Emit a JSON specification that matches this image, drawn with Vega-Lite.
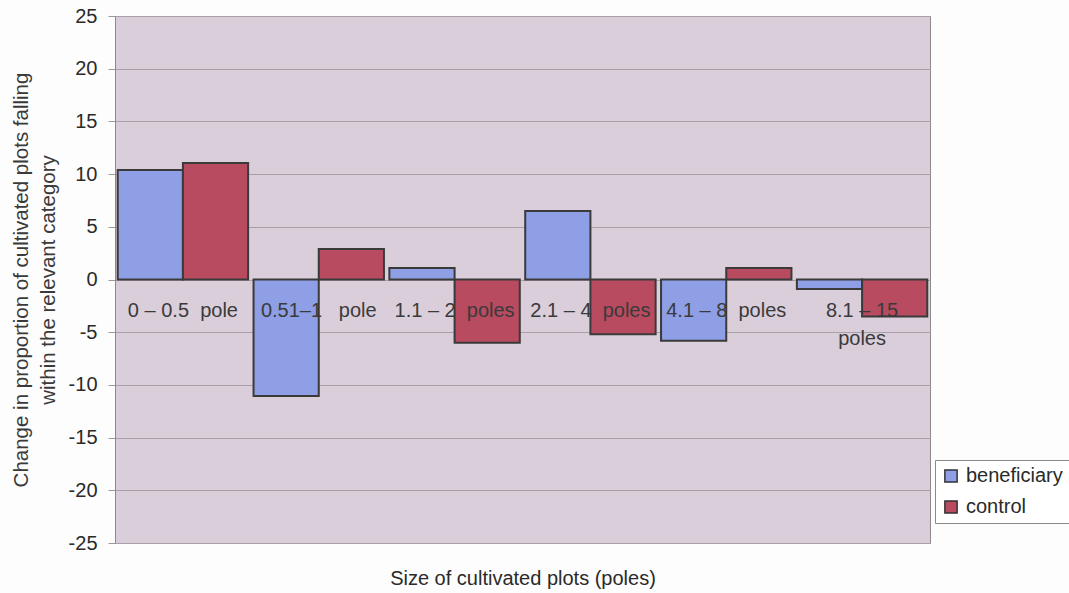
{
  "$schema": "https://vega.github.io/schema/vega-lite/v6.json",
  "width": 815,
  "height": 527,
  "autosize": {"type": "none"},
  "padding": {"left": 115, "top": 16, "right": 139, "bottom": 50},
  "background": "#FDFDFD",
  "config": {
    "font": "Liberation Sans",
    "view": {"fill": "#DACEDB", "stroke": "#8A8A8A", "strokeWidth": 1}
  },
  "data": {
    "values": [
      {"size": "0 – 0.5\u00a0\u00a0pole", "group": "beneficiary", "change": 10.4},
      {"size": "0 – 0.5\u00a0\u00a0pole", "group": "control", "change": 11.05},
      {"size": "0.51–1\u00a0\u00a0\u00a0pole", "group": "beneficiary", "change": -11.05},
      {"size": "0.51–1\u00a0\u00a0\u00a0pole", "group": "control", "change": 2.9},
      {"size": "1.1 – 2\u00a0\u00a0poles", "group": "beneficiary", "change": 1.1},
      {"size": "1.1 – 2\u00a0\u00a0poles", "group": "control", "change": -6.0},
      {"size": "2.1 – 4\u00a0\u00a0poles", "group": "beneficiary", "change": 6.5},
      {"size": "2.1 – 4\u00a0\u00a0poles", "group": "control", "change": -5.2},
      {"size": "4.1 – 8\u00a0\u00a0poles", "group": "beneficiary", "change": -5.8},
      {"size": "4.1 – 8\u00a0\u00a0poles", "group": "control", "change": 1.1},
      {"size": "8.1 – 15 poles", "group": "beneficiary", "change": -0.9},
      {"size": "8.1 – 15 poles", "group": "control", "change": -3.5}
    ]
  },
  "mark": {"type": "bar", "stroke": "#3A3A3A", "strokeWidth": 2},
  "encoding": {
    "x": {
      "field": "size",
      "type": "nominal",
      "sort": null,
      "scale": {"paddingInner": 0.04, "paddingOuter": 0.02},
      "axis": {
        "offset": -264,
        "zindex": 1,
        "labelAngle": 0,
        "labelFontSize": 20,
        "labelColor": "#3A3A3A",
        "labelPadding": 31,
        "labelLimit": 0,
        "labelLineHeight": 28,
        "labelBaseline": "middle",
        "labelExpr": "datum.value == '8.1 – 15 poles' ? ['8.1 – 15', 'poles'] : datum.value",
        "ticks": false,
        "domain": false,
        "title": "Size of cultivated plots (poles)",
        "titleFontSize": 20,
        "titleFontWeight": "normal",
        "titleColor": "#2A2A2A",
        "titleY": 289,
        "grid": false
      }
    },
    "xOffset": {"field": "group", "type": "nominal"},
    "y": {
      "field": "change",
      "type": "quantitative",
      "scale": {"domain": [-25, 25], "nice": false},
      "axis": {
        "values": [-25, -20, -15, -10, -5, 0, 5, 10, 15, 20, 25],
        "labelExpr": "toString(datum.value)",
        "labelFontSize": 20,
        "labelColor": "#2A2A2A",
        "labelPadding": 11,
        "tickSize": 7,
        "tickColor": "#9A9A9A",
        "domainColor": "#8A8A8A",
        "gridColor": "#A8A0A8",
        "gridWidth": 1,
        "title": ["Change in proportion of cultivated plots falling", "within the relevant category"],
        "titleFontSize": 20.5,
        "titleFontWeight": "normal",
        "titleColor": "#3A3A3A",
        "titlePadding": 10,
        "titleLineHeight": 27
      }
    },
    "color": {
      "field": "group",
      "type": "nominal",
      "scale": {"domain": ["beneficiary", "control"], "range": ["#8E9FE6", "#B84B60"]},
      "legend": {
        "orient": "none",
        "legendX": 820,
        "legendY": 444,
        "title": null,
        "symbolType": "square",
        "symbolSize": 150,
        "symbolStrokeColor": "#333333",
        "symbolStrokeWidth": 1.5,
        "symbolOpacity": 1,
        "labelFontSize": 20,
        "labelColor": "#2A2A2A",
        "labelOffset": 5,
        "rowPadding": 11,
        "padding": 6,
        "strokeColor": "#8A8A8A",
        "fillColor": "#FFFFFF"
      }
    }
  }
}
